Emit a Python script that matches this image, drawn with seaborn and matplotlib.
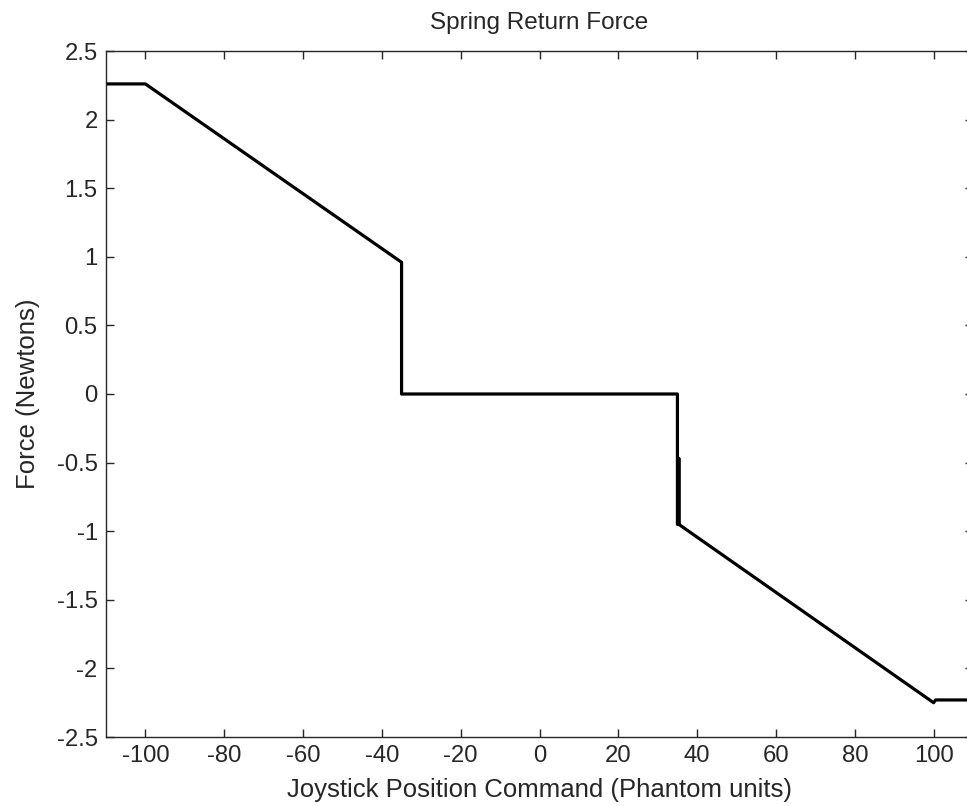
import matplotlib
matplotlib.use("Agg")
import matplotlib.pyplot as plt
import seaborn as sns
import pandas as pd

# Data
position = [-110, -100, -35, -35, 35, 35, 35.35, 35.35, 35.35, 100, 100.5, 110]
force = [2.26, 2.26, 0.96, 0.0, 0.0, -0.95, -0.95, -0.47, -0.95, -2.25, -2.23, -2.23]
x_ticks = [-100, -80, -60, -40, -20, 0, 20, 40, 60, 80, 100]
y_ticks = [-2.5, -2, -1.5, -1, -0.5, 0, 0.5, 1, 1.5, 2, 2.5]

df = pd.DataFrame({"pos": position, "force": force})

sns.set_style("ticks")
plt.rcParams['font.family'] = ['Liberation Sans', 'DejaVu Sans']
plt.rcParams['axes.unicode_minus'] = False

fig = plt.figure(figsize=(9.67, 8.06), dpi=100)
ax = fig.add_axes([106/967, (806-737)/806, (973-106)/967, (737-51)/806])

sns.lineplot(data=df, x="pos", y="force", sort=False, estimator=None,
             color="black", linewidth=2.3, ax=ax)

ax.set_xlim(-110, 110)
ax.set_ylim(-2.5, 2.5)
ax.set_xticks(x_ticks)
ax.set_xticklabels([f"{v:g}" for v in x_ticks])
ax.set_yticks(y_ticks)
ax.set_yticklabels([f"{v:g}" for v in y_ticks])

for s in ax.spines.values():
    s.set_visible(True)
    s.set_linewidth(1.0)
    s.set_color("#262626")

txt = "#262626"
ax.tick_params(direction="in", length=6, width=1.0, colors="#262626",
               top=True, right=True, labelsize=17.2, pad=6, labelcolor=txt)

ax.set_xlabel("Joystick Position Command (Phantom units)", fontsize=18.5, color=txt, labelpad=8)
ax.set_ylabel("Force (Newtons)", fontsize=18.5, color=txt, labelpad=12)
ax.set_title("Spring Return Force", fontsize=17.5, color=txt, pad=16)

fig.savefig("out.png", dpi=100)
